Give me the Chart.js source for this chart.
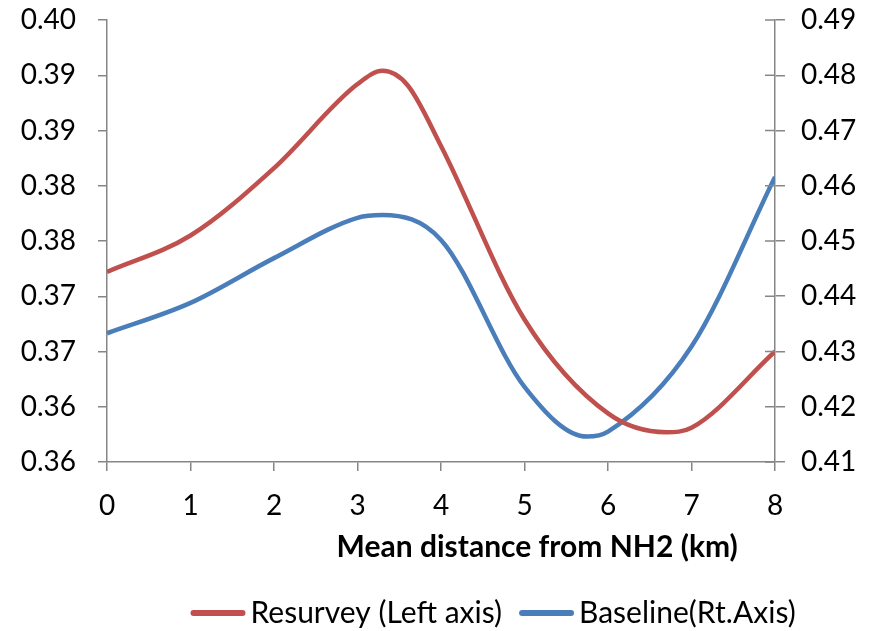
<!DOCTYPE html>
<html>
<head>
<meta charset="utf-8">
<title>Resurvey vs Baseline by distance from NH2</title>
<script src="https://cdn.jsdelivr.net/npm/chart.js@4.4.0/dist/chart.umd.min.js"></script>
<style>
  html, body { margin: 0; padding: 0; background: #fff; }
  #wrap { width: 877px; height: 631px; position: relative; }
</style>
</head>
<body>
<div id="wrap"><canvas id="distChart"></canvas></div>
<script>
// ---- data ----
// mean distance from NH2 (km) and the index value read at each
const resurveyKm = [0, 1, 2, 3, 3.3, 3.6, 4, 5, 6, 6.7, 7, 8];
const resurvey = [0.3722, 0.3755, 0.3816, 0.3892, 0.3904, 0.3891, 0.3836, 0.3679, 0.3594, 0.3577, 0.3581, 0.3650];
const baselineKm = [0, 1, 2, 3, 3.3, 4, 5, 5.75, 6, 7, 8];
const baseline = [0.4333, 0.4388, 0.4469, 0.4542, 0.4547, 0.4502, 0.4236, 0.4146, 0.4155, 0.4309, 0.4616];

// axis labels as printed (left axis is rounded to 2 places)
const xTicks = ['0', '1', '2', '3', '4', '5', '6', '7', '8'];
const leftTicks = ['0.36', '0.36', '0.37', '0.37', '0.38', '0.38', '0.39', '0.39', '0.40'];
const rightTicks = ['0.41', '0.42', '0.43', '0.44', '0.45', '0.46', '0.47', '0.48', '0.49'];
const xTitle = 'Mean distance from NH2 (km)';

const FONT = 'Lato, "Noto Sans", sans-serif';
const AXIS_GREY = '#868686';
const RED = '#C0504D';
const BLUE = '#4A7EBB';

const toPoints = (xs, ys) => ys.map((v, i) => ({ x: xs[i], y: v }));

// drop the label padding chart.js reserves above/below a vertical axis
function fixedWidth(w) {
  return scale => {
    scale.width = w;
    scale.paddingTop = 0;
    scale.paddingBottom = 0;
  };
}

// x-axis title and bottom legend are placed by hand, plus the inner half
// of the cross tick marks on the secondary axis
const extras = {
  id: 'extras',
  afterDraw(chart) {
    const { ctx, chartArea: a, scales } = chart;
    const w = a.right - a.left;
    ctx.save();

    const y2 = scales.y2;
    ctx.strokeStyle = AXIS_GREY;
    ctx.lineWidth = 1.5;
    y2.ticks.forEach((t, i) => {
      const y = y2.getPixelForTick(i);
      ctx.beginPath();
      ctx.moveTo(a.right - 10, y);
      ctx.lineTo(a.right, y);
      ctx.stroke();
    });

    ctx.fillStyle = '#000';
    ctx.textBaseline = 'middle';
    ctx.font = 'bold 30px ' + FONT;
    ctx.textAlign = 'center';
    ctx.fillText(xTitle, a.left + 0.644 * w, a.bottom + 85);

    // legend
    ctx.font = '30px ' + FONT;
    ctx.textAlign = 'left';
    const items = chart.data.datasets.map(ds => ({
      label: ds.label, color: ds.borderColor, tw: ctx.measureText(ds.label).width
    }));
    const lineLen = 55, gap = 5, between = 17;
    let total = 0;
    items.forEach((it, i) => { total += lineLen + gap + it.tw + (i ? between : 0); });
    let x = a.left + 0.578 * w - total / 2;
    const ly = a.bottom + 151;
    items.forEach(it => {
      ctx.strokeStyle = it.color;
      ctx.lineWidth = 6;
      ctx.lineCap = 'round';
      ctx.beginPath();
      ctx.moveTo(x + 3, ly);
      ctx.lineTo(x + lineLen - 3, ly);
      ctx.stroke();
      ctx.fillText(it.label, x + lineLen + gap, ly);
      x += lineLen + gap + it.tw + between;
    });
    ctx.restore();
  }
};

const ctx = document.getElementById('distChart').getContext('2d');
new Chart(ctx, {
  type: 'line',
  data: {
    datasets: [
      {
        label: 'Resurvey (Left axis)',
        data: toPoints(resurveyKm, resurvey),
        yAxisID: 'y',
        borderColor: RED,
        borderWidth: 4.5,
        pointRadius: 0,
        cubicInterpolationMode: 'monotone',
        fill: false
      },
      {
        label: 'Baseline(Rt.Axis)',
        data: toPoints(baselineKm, baseline),
        yAxisID: 'y2',
        borderColor: BLUE,
        borderWidth: 4.5,
        pointRadius: 0,
        cubicInterpolationMode: 'monotone',
        fill: false
      }
    ]
  },
  options: {
    responsive: true,
    maintainAspectRatio: false,
    animation: false,
    layout: { padding: { top: 20, left: 0, right: 0, bottom: 0 } },
    plugins: {
      legend: { display: false },
      tooltip: { enabled: false }
    },
    scales: {
      x: {
        type: 'linear',
        min: 0,
        max: 8,
        grid: { drawOnChartArea: false, tickLength: 9, color: AXIS_GREY, lineWidth: 1.5 },
        border: { color: AXIS_GREY, width: 1.5 },
        ticks: {
          stepSize: 1,
          color: '#000',
          font: { family: FONT, size: 28 },
          padding: 18,
          maxRotation: 0,
          callback: (v, i) => xTicks[i]
        },
        afterFit(scale) { scale.height = 169; }
      },
      y: {
        position: 'left',
        min: 0.355,
        max: 0.395,
        grid: { drawOnChartArea: false, tickLength: 9, color: AXIS_GREY, lineWidth: 1.5 },
        border: { color: AXIS_GREY, width: 1.5 },
        ticks: {
          stepSize: 0.005,
          color: '#000',
          font: { family: FONT, size: 28 },
          padding: 22,
          callback: (v, i) => leftTicks[i]
        },
        afterFit: fixedWidth(107)
      },
      y2: {
        position: 'right',
        min: 0.41,
        max: 0.49,
        grid: { drawOnChartArea: false, tickLength: 10, color: AXIS_GREY, lineWidth: 1.5 },
        border: { color: AXIS_GREY, width: 1.5 },
        ticks: {
          stepSize: 0.01,
          color: '#000',
          font: { family: FONT, size: 28 },
          padding: 16,
          callback: (v, i) => rightTicks[i]
        },
        afterFit: fixedWidth(102)
      }
    }
  },
  plugins: [extras]
});
</script>
</body>
</html>
